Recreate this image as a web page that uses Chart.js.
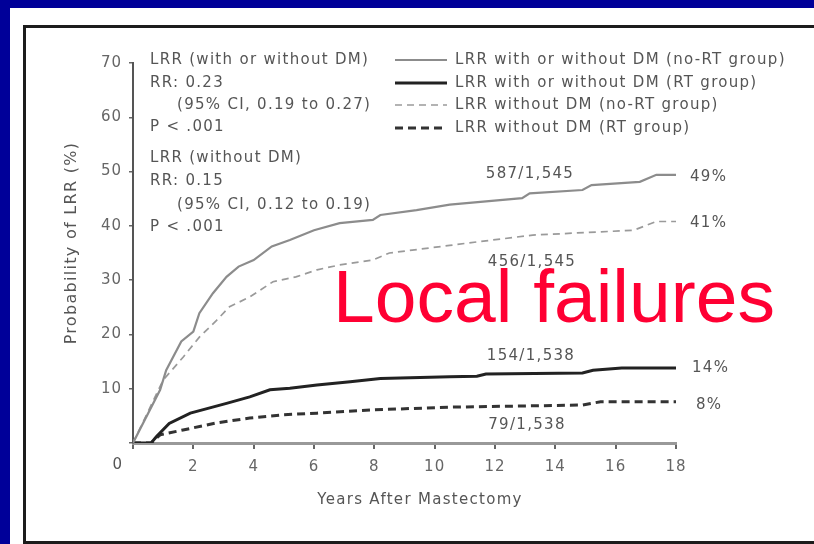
<!DOCTYPE html>
<html><head><meta charset="utf-8">
<script src="https://cdn.jsdelivr.net/npm/chart.js@4.4.1/dist/chart.umd.min.js"></script>
<style>
html,body{margin:0;padding:0;width:814px;height:544px;overflow:hidden;background:#000099;}
#white{position:absolute;left:10px;top:8px;width:804px;height:536px;background:#fff;}
#box{position:absolute;left:23px;top:25px;width:900px;height:519px;box-sizing:border-box;border:3px solid #1c1c1c;}
#c{position:absolute;left:0;top:0;}
</style></head><body>
<div id="white"></div><div id="box"></div>
<canvas id="c" width="814" height="544"></canvas>
<script>
// ---- data (years after mastectomy, probability of LRR %) ----
const noRtAllYears = [0, 0.9, 1.1, 1.6, 2.0, 2.2, 2.65, 3.1, 3.5, 4.0, 4.6, 5.2, 6.0, 6.85, 7.95, 8.2, 9.4, 10.5, 12.9, 13.15, 14.9, 15.2, 16.8, 17.35, 18];
const noRtAllLRR   = [0, 9.8, 13.4, 18.7, 20.5, 23.9, 27.6, 30.6, 32.5, 33.7, 36.2, 37.4, 39.2, 40.5, 41.1, 42.0, 42.9, 43.9, 45.1, 46.0, 46.6, 47.5, 48.1, 49.4, 49.4];

const noRtNoDmYears = [0, 1.0, 1.66, 2.2, 2.77, 3.2, 3.87, 4.64, 5.4, 6.1, 6.85, 7.95, 8.5, 10.5, 11.05, 13.25, 15.5, 16.6, 17.35, 18];
const noRtNoDmLRR   = [0, 11.6, 15.8, 19.5, 22.6, 25.1, 26.9, 29.7, 30.6, 31.9, 32.8, 33.7, 35.0, 36.4, 36.8, 38.3, 38.9, 39.2, 40.8, 40.8];

const rtAllYears = [0, 0.6, 0.78, 1.2, 1.9, 2.3, 3.1, 3.87, 4.54, 5.2, 6.1, 7.2, 8.2, 10.5, 11.4, 11.7, 14.9, 15.25, 16.2, 18];
const rtAllLRR   = [0, 0, 1.2, 3.6, 5.5, 6.1, 7.3, 8.5, 9.8, 10.1, 10.7, 11.3, 11.9, 12.2, 12.3, 12.7, 12.9, 13.4, 13.8, 13.8];

const rtNoDmYears = [0, 0.6, 0.9, 1.66, 2.77, 3.87, 4.97, 6.1, 7.95, 10.5, 14.9, 15.5, 18];
const rtNoDmLRR   = [0, 0, 1.5, 2.4, 3.7, 4.6, 5.2, 5.5, 6.1, 6.6, 7.0, 7.6, 7.6];

const seriesNames = [
  'LRR with or without DM (no-RT group)',
  'LRR with or without DM (RT group)',
  'LRR without DM (no-RT group)',
  'LRR without DM (RT group)'
];
const countLabels = ['587/1,545', '456/1,545', '154/1,538', '79/1,538'];
const endLabels = ['49%', '41%', '14%', '8%'];
const statsBlock1 = ['LRR (with or without DM)', 'RR: 0.23', '(95% CI, 0.19 to 0.27)', 'P < .001'];
const statsBlock2 = ['LRR (without DM)', 'RR: 0.15', '(95% CI, 0.12 to 0.19)', 'P < .001'];
const xTicks = [0, 2, 4, 6, 8, 10, 12, 14, 16, 18];
const yTicks = [10, 20, 30, 40, 50, 60, 70];
const xTitle = 'Years After Mastectomy';
const yTitle = 'Probability of LRR (%)';
const overlayTitle = 'Local failures';

const pts = (xs, ys) => xs.map((x, i) => ({x: x, y: ys[i]}));

const FONT = '"DejaVu Sans", sans-serif';
const TXT = '#555555';

function txt(ctx, s, x, y, align, size, color) {
  ctx.save();
  ctx.font = (size || 15) + 'px ' + FONT;
  ctx.fillStyle = color || TXT;
  ctx.textAlign = align || 'left';
  ctx.textBaseline = 'middle';
  ctx.letterSpacing = '1.3px';
  ctx.fillText(s, x, y);
  ctx.restore();
}

const decor = {
  id: 'decor',
  beforeDraw(chart) { chart.ctx.letterSpacing = '1px'; },
  afterDraw(chart) {
    const ctx = chart.ctx;
    const xs = chart.scales.x;
    // stats blocks
    const rows1 = [60, 83, 105, 127];
    const rows2 = [158, 181, 205, 227];
    statsBlock1.forEach((s, i) => txt(ctx, s, i === 2 ? 177 : 150, rows1[i]));
    statsBlock2.forEach((s, i) => txt(ctx, s, i === 2 ? 177 : 150, rows2[i]));
    // legend
    const lrows = [60, 83, 105, 128];
    chart.data.datasets.forEach((ds, i) => {
      ctx.save();
      ctx.strokeStyle = ds.borderColor;
      ctx.lineWidth = ds.borderWidth;
      ctx.setLineDash(ds.borderDash || []);
      ctx.beginPath();
      ctx.moveTo(395, lrows[i]);
      ctx.lineTo(447, lrows[i]);
      ctx.stroke();
      ctx.restore();
      txt(ctx, seriesNames[i], 455, lrows[i]);
    });
    // counts
    const cpos = [[530, 174], [532, 262], [531, 356], [527, 425]];
    countLabels.forEach((s, i) => txt(ctx, s, cpos[i][0], cpos[i][1], 'center'));
    const epos = [[690, 177], [690, 223], [692, 368], [696, 405]];
    endLabels.forEach((s, i) => txt(ctx, s, epos[i][0], epos[i][1]));
    // origin label
    txt(ctx, String(xTicks[0]), xs.getPixelForValue(0) - 15, 465, 'center');
    // axis titles
    txt(ctx, xTitle, 420, 500, 'center');
    ctx.save();
    ctx.translate(72, 243);
    ctx.rotate(-Math.PI / 2);
    txt(ctx, yTitle, 0, 0, 'center', 16);
    ctx.restore();
    // overlay title
    ctx.save();
    ctx.font = '75px "Liberation Sans", Arial, sans-serif';
    ctx.fillStyle = '#FF0033';
    ctx.textAlign = 'left';
    ctx.textBaseline = 'alphabetic';
    ctx.letterSpacing = '0px';
    ctx.fillText(overlayTitle, 333, 322);
    ctx.restore();
  }
};

new Chart(document.getElementById('c'), {
  type: 'line',
  data: {
    datasets: [
      {label: seriesNames[0], data: pts(noRtAllYears, noRtAllLRR), borderColor: '#8c8c8c', borderWidth: 2.2, pointRadius: 0, tension: 0, fill: false},
      {label: seriesNames[1], data: pts(rtAllYears, rtAllLRR), borderColor: '#222222', borderWidth: 3, pointRadius: 0, tension: 0, fill: false},
      {label: seriesNames[2], data: pts(noRtNoDmYears, noRtNoDmLRR), borderColor: '#9a9a9a', borderWidth: 1.7, borderDash: [7, 5], pointRadius: 0, tension: 0, fill: false},
      {label: seriesNames[3], data: pts(rtNoDmYears, rtNoDmLRR), borderColor: '#333333', borderWidth: 3, borderDash: [8, 5], pointRadius: 0, tension: 0, fill: false}
    ]
  },
  options: {
    responsive: false,
    devicePixelRatio: 1,
    animation: false,
    layout: {padding: {left: 0, top: 63, right: 138, bottom: 0}},
    plugins: {legend: {display: false}, tooltip: {enabled: false}},
    scales: {
      x: {
        type: 'linear', min: 0, max: 18,
        afterBuildTicks: s => { s.ticks = xTicks.map(v => ({value: v})); },
        afterFit: s => { s.height = 101; },
        ticks: {callback: v => (v === 0 ? '' : String(v)), color: '#666', font: {family: 'DejaVu Sans', size: 15}, padding: 9, maxRotation: 0, autoSkip: false},
        grid: {drawOnChartArea: false, drawTicks: true, tickLength: 6, color: '#666', lineWidth: 2},
        border: {color: '#999', width: 3}
      },
      y: {
        min: 0, max: 70,
        afterBuildTicks: s => { s.ticks = [0].concat(yTicks).map(v => ({value: v})); },
        afterFit: s => { s.width = 133; },
        ticks: {callback: v => (v === 0 ? '' : String(v)), color: '#666', font: {family: 'DejaVu Sans', size: 15}, padding: 7},
        grid: {drawOnChartArea: false, drawTicks: true, tickLength: 4, color: '#666', lineWidth: 1.5},
        border: {color: '#555', width: 2}
      }
    }
  },
  plugins: [decor]
});
</script></body></html>
